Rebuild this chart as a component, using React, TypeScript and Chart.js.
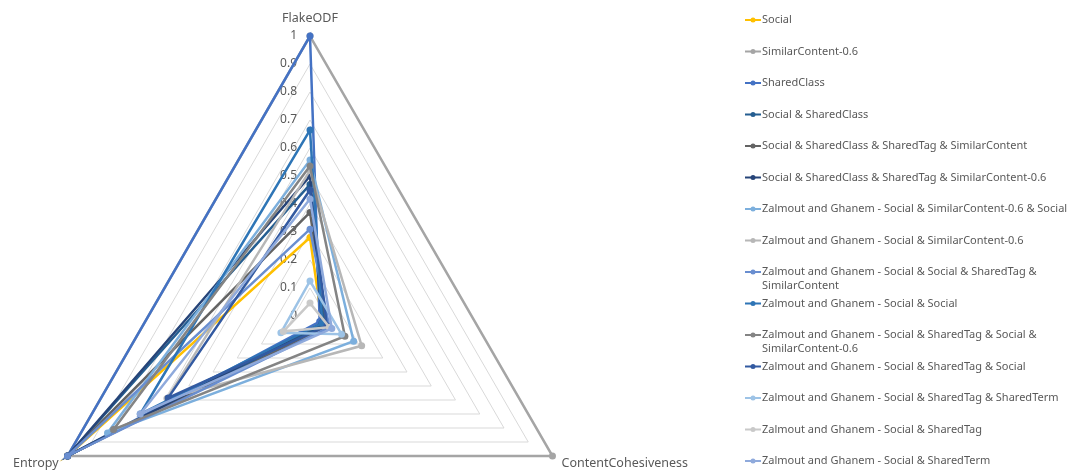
import React, { useEffect, useRef } from 'react';
import { Chart, registerables } from 'chart.js';

Chart.register(...registerables);

// ---------- data ----------
const CATEGORIES = ['FlakeODF', 'ContentCohesiveness', 'Entropy'];
const TICK_VALUES = [0, 0.1, 0.2, 0.3, 0.4, 0.5, 0.6, 0.7, 0.8, 0.9, 1];
const TICK_LABELS = ['0', '0.1', '0.2', '0.3', '0.4', '0.5', '0.6', '0.7', '0.8', '0.9', '1'];

const SERIES_NAMES = [
  'Social',
  'SimilarContent-0.6',
  'SharedClass',
  'Social & SharedClass',
  'Social & SharedClass & SharedTag & SimilarContent',
  'Social & SharedClass & SharedTag & SimilarContent-0.6',
  'Zalmout and Ghanem - Social & SimilarContent-0.6 & Social',
  'Zalmout and Ghanem - Social & SimilarContent-0.6',
  'Zalmout and Ghanem - Social & Social & SharedTag & SimilarContent',
  'Zalmout and Ghanem - Social & Social',
  'Zalmout and Ghanem - Social & SharedTag & Social & SimilarContent-0.6',
  'Zalmout and Ghanem - Social & SharedTag & Social',
  'Zalmout and Ghanem - Social & SharedTag & SharedTerm',
  'Zalmout and Ghanem - Social & SharedTag',
  'Zalmout and Ghanem - Social & SharedTerm',
];

const SERIES_COLORS = [
  '#FFC000', '#A5A5A5', '#4472C4', '#255E91', '#636363', '#264478', '#7CAFDD', '#B7B7B7',
  '#698ED0', '#2E75B6', '#848484', '#335AA1', '#9DC3E6', '#C9C9C9', '#8FAADC',
];

// values in CATEGORIES order: FlakeODF, ContentCohesiveness, Entropy
const SOCIAL = [0.28, 0.05, 1.0];
const SIMILAR_CONTENT_06 = [1.0, 1.0, 1.0];
const SHARED_CLASS = [1.0, 0.04, 1.0];
const SOCIAL_SHARED_CLASS = [0.47, 0.06, 1.0];
const SOCIAL_SC_ST_SIMC = [0.37, 0.07, 1.0];
const SOCIAL_SC_ST_SIMC06 = [0.5, 0.05, 1.0];
const ZG_SOCIAL_SIMC06_SOCIAL = [0.557, 0.18, 0.835];
const ZG_SOCIAL_SIMC06 = [0.52, 0.213, 0.59];
const ZG_SOCIAL_SOCIAL_ST_SIMC = [0.31, 0.08, 1.0];
const ZG_SOCIAL_SOCIAL = [0.664, 0.05, 0.7];
const ZG_SOCIAL_ST_SOCIAL_SIMC06 = [0.536, 0.144, 0.81];
const ZG_SOCIAL_ST_SOCIAL = [0.45, 0.07, 0.585];
const ZG_SOCIAL_ST_STERM = [0.125, 0.13, 0.12];
const ZG_SOCIAL_ST = [0.046, 0.08, 0.11];
const ZG_SOCIAL_STERM = [0.418, 0.09, 0.7];

const SERIES_VALUES = [
  SOCIAL, SIMILAR_CONTENT_06, SHARED_CLASS, SOCIAL_SHARED_CLASS, SOCIAL_SC_ST_SIMC,
  SOCIAL_SC_ST_SIMC06, ZG_SOCIAL_SIMC06_SOCIAL, ZG_SOCIAL_SIMC06, ZG_SOCIAL_SOCIAL_ST_SIMC,
  ZG_SOCIAL_SOCIAL, ZG_SOCIAL_ST_SOCIAL_SIMC06, ZG_SOCIAL_ST_SOCIAL, ZG_SOCIAL_ST_STERM,
  ZG_SOCIAL_ST, ZG_SOCIAL_STERM,
];

// ---------- styling ----------
const TEXT_COLOR = '#595959';
const FONT_FAMILY = '"Noto Sans", "Open Sans", sans-serif';

const overlayPlugin = {
  id: 'excelOverlay',
  beforeDatasetsDraw(chart: any) {
    const r = chart.scales.r;
    const ctx = chart.ctx;
    ctx.save();
    ctx.font = `12px ${FONT_FAMILY}`;
    ctx.fillStyle = TEXT_COLOR;
    ctx.textAlign = 'right';
    ctx.textBaseline = 'middle';
    TICK_VALUES.forEach((v, i) => {
      const y = r.yCenter - r.getDistanceFromCenterForValue(v);
      ctx.fillText(TICK_LABELS[i], r.xCenter - 13, y);
    });
    ctx.restore();
  },
  afterDraw(chart: any) {
    const r = chart.scales.r;
    const ctx = chart.ctx;
    ctx.save();
    // axis (point) labels
    ctx.font = `12.5px ${FONT_FAMILY}`;
    ctx.fillStyle = TEXT_COLOR;
    ctx.textBaseline = 'middle';
    CATEGORIES.forEach((label, i) => {
      const p = r.getPointPosition(i, r.drawingArea);
      if (i === 0) {
        ctx.textAlign = 'center';
        ctx.fillText(label, p.x, p.y - 18);
      } else if (i === 1) {
        ctx.textAlign = 'left';
        ctx.fillText(label, p.x + 9, p.y + 7);
      } else {
        ctx.textAlign = 'right';
        ctx.fillText(label, p.x - 9, p.y + 7);
      }
    });

    // legend
    const left = chart.width - 338;
    const textX = left + 17;
    const maxW = chart.width - textX - 4;
    const top = 20;
    const step = 31.5;
    ctx.font = `11px ${FONT_FAMILY}`;
    ctx.textAlign = 'left';
    SERIES_NAMES.forEach((name, i) => {
      const y = top + i * step;
      const color = SERIES_COLORS[i];
      ctx.strokeStyle = color;
      ctx.lineWidth = 2;
      ctx.beginPath();
      ctx.moveTo(left, y);
      ctx.lineTo(left + 16, y);
      ctx.stroke();
      ctx.fillStyle = color;
      ctx.beginPath();
      ctx.arc(left + 8, y, 2.5, 0, Math.PI * 2);
      ctx.fill();
      const words = name.split(' ');
      const lines: string[] = [];
      let cur = '';
      words.forEach((w) => {
        const test = cur ? cur + ' ' + w : w;
        if (ctx.measureText(test).width > maxW && cur) {
          lines.push(cur);
          cur = w;
        } else cur = test;
      });
      lines.push(cur);
      ctx.fillStyle = TEXT_COLOR;
      lines.forEach((ln, k) => ctx.fillText(ln, textX, y + k * 14));
    });
    ctx.restore();
  },
};

export default function App() {
  const ref = useRef<HTMLCanvasElement>(null);
  useEffect(() => {
    const n = SERIES_VALUES.length;
    const chart = new Chart(ref.current as HTMLCanvasElement, {
      type: 'radar',
      data: {
        labels: CATEGORIES,
        datasets: SERIES_VALUES.map((vals, i) => ({
          label: SERIES_NAMES[i],
          data: vals,
          borderColor: SERIES_COLORS[i],
          backgroundColor: SERIES_COLORS[i],
          pointBackgroundColor: SERIES_COLORS[i],
          pointBorderColor: SERIES_COLORS[i],
          borderWidth: 2.5,
          pointRadius: 3.5,
          pointBorderWidth: 0,
          fill: false,
          order: n - i,
        })),
      },
      options: {
        animation: false,
        responsive: true,
        maintainAspectRatio: false,
        layout: { padding: 0 },
        elements: { line: { tension: 0 } },
        plugins: { legend: { display: false }, tooltip: { enabled: false } },
        scales: {
          r: {
            min: 0,
            max: 1,
            ticks: { display: false, stepSize: 0.1 },
            grid: { color: '#D9D9D9', lineWidth: 1, circular: false },
            angleLines: { display: false },
            pointLabels: { display: false },
            afterFit: (scale: any) => {
              scale.xCenter = 310;
              scale.yCenter = 316;
              scale.drawingArea = 280;
            },
          },
        },
      } as any,
      plugins: [overlayPlugin],
    });
    return () => chart.destroy();
  }, []);

  return (
    <div style={{ position: 'fixed', left: 0, top: 0, width: '100vw', height: '100vh' }}>
      <canvas ref={ref} />
    </div>
  );
}
